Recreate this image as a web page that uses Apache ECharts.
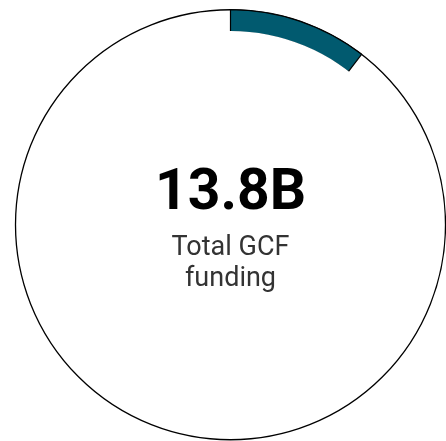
<!DOCTYPE html>
<html>
<head>
<meta charset="utf-8">
<style>
html,body{margin:0;padding:0;background:#fff;}
#chart{width:446px;height:441px;}
</style>
<script src="https://cdn.jsdelivr.net/npm/echarts@6/dist/echarts.min.js"></script>
</head>
<body>
<div id="chart"></div>
<script>
// Data
const categories = ['Share', 'Remainder'];
const shareValue = 1.44;      // highlighted portion (B)
const totalValue = 13.8;      // total GCF funding (B)
const centerLabel = '13.8B';
const subLabelLines = ['Total GCF', 'funding'];

const CX = 230.5, CY = 224.75, R = 215, R0 = 193;

const chart = echarts.init(document.getElementById('chart'), null, {renderer: 'canvas'});
const noLabel = {show: false};
chart.setOption({
  animation: false,
  backgroundColor: '#ffffff',
  series: [
    {
      type: 'pie', silent: true, z: 1,
      center: [CX, CY], radius: [0, R],
      label: noLabel, labelLine: {show: false},
      emphasis: {disabled: true},
      data: [{name: 'Total', value: totalValue,
        itemStyle: {color: '#ffffff', borderColor: '#000000', borderWidth: 1.3}}]
    },
    {
      type: 'pie', silent: true, z: 2,
      center: [CX, CY], radius: [R0, R],
      startAngle: 90, clockwise: true,
      label: noLabel, labelLine: {show: false},
      emphasis: {disabled: true},
      data: [
        {name: categories[0], value: shareValue,
          itemStyle: {color: '#015A6F', borderColor: '#000000', borderWidth: 1.2}},
        {name: categories[1], value: totalValue - shareValue,
          itemStyle: {color: 'rgba(0,0,0,0)', borderWidth: 0}}
      ]
    },
    {
      type: 'pie', silent: true, z: 3,
      center: [CX, CY], radius: [0, R0 + 0.7],
      label: noLabel, labelLine: {show: false},
      emphasis: {disabled: true},
      data: [{name: 'inner', value: 1, itemStyle: {color: '#ffffff', borderWidth: 0}}]
    }
  ],
  graphic: [
    {type: 'text', x: CX, y: 195, z: 10,
      style: {text: centerLabel, fill: '#000000', font: 'bold 57px Roboto',
        textAlign: 'center', textVerticalAlign: 'middle'}},
    {type: 'text', x: CX, y: 264, z: 10,
      style: {text: subLabelLines.join('\n'), fill: '#333333', font: '27px Roboto',
        lineHeight: 31, textAlign: 'center', textVerticalAlign: 'middle'}}
  ]
});
</script>
</body>
</html>
